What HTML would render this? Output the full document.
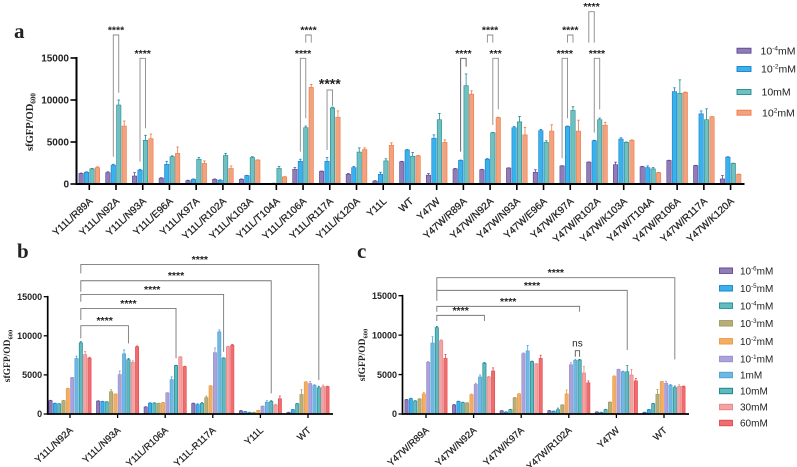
<!DOCTYPE html>
<html lang="en">
<head>
<meta charset="utf-8">
<title>sfGFP/OD600 bar charts</title>
<style>
html,body{margin:0;padding:0;background:#fff;width:797px;height:467px;overflow:hidden}
#stage{display:block;filter:blur(0.35px)}
text{font-family:"Liberation Sans",Arial,sans-serif;fill:#222}
.serif{font-family:"Liberation Serif","Times New Roman",serif}
</style>
</head>
<body>
<svg id="stage" xmlns="http://www.w3.org/2000/svg" width="797" height="467" viewBox="0 0 797 467">
  <text class="serif" x="14" y="38" font-size="21" font-weight="bold">a</text>
  <text class="serif" x="17" y="258" font-size="21" font-weight="bold">b</text>
  <text class="serif" x="357" y="258" font-size="21" font-weight="bold">c</text>
</svg>
<script>
/* ---------- Panel A data ---------- */
const categoriesA = ["Y11L/R89A","Y11L/N92A","Y11L/N93A","Y11L/E96A","Y11L/K97A","Y11L/R102A","Y11L/K103A","Y11L/T104A","Y11L/R106A","Y11L/R117A","Y11L/K120A","Y11L","WT","Y47W","Y47W/R89A","Y47W/N92A","Y47W/N93A","Y47W/E96A","Y47W/K97A","Y47W/R102A","Y47W/K103A","Y47W/T104A","Y47W/R106A","Y47W/R117A","Y47W/K120A"];
const seriesA1 = [1250,1350,950,700,400,550,550,50,1750,1500,1150,350,2650,1050,1800,1700,1900,1400,2150,2600,2300,2050,2800,2200,600];
const seriesA2 = [1400,2250,1650,2350,550,450,1000,80,2700,2700,1950,1150,4050,5450,2800,2950,6700,6350,6850,5150,5350,1950,11000,8350,3200];
const seriesA3 = [1800,9400,5200,3250,2950,3400,3150,1850,6700,9050,3800,2750,3300,7650,11700,6100,7400,4950,8750,7650,4950,1800,10800,7650,2450];
const seriesA4 = [1950,6900,5400,3650,2450,1850,2850,850,11500,7950,4100,4600,3350,4950,10700,7900,5850,6300,6300,7000,5200,1350,10900,8000,1150];
const errorsA1 = [50,100,400,50,50,50,50,20,200,50,100,50,50,200,50,50,30,300,30,30,300,50,30,30,400];
const errorsA2 = [50,100,100,350,50,50,30,20,250,450,150,250,50,400,50,80,150,150,50,60,150,200,450,350,50];
const errorsA3 = [50,600,600,100,200,250,100,250,200,100,500,250,450,750,1400,30,650,200,450,200,50,150,1600,1300,30];
const errorsA4 = [100,600,550,750,300,300,30,30,350,750,200,300,50,300,400,50,900,750,1300,350,50,30,50,30,30];
const legendA = ["10^-4^mM","10^-2^mM","10mM","10^2^mM"];
const yTicks = [0,5000,10000,15000];
/* brackets: category, left series, right series, top value, left end value, right end value, label */
const bracketsA = [
  [1,1,2,17737,3250,10870,"****"],
  [2,1,2,14960,2660,6630,"****"],
  [8,1,2,14960,3850,7820,"****"],
  [8,2,3,17737,16824,16824,"****"],
  [9,1,2,11190,4050,9320,"****"],
  [14,1,2,14960,3850,13970,"****"],
  [15,1,2,17737,16824,16824,"****"],
  [15,2,3,14960,7020,8890,"***"],
  [18,0,1,14960,3060,7820,"****"],
  [18,1,2,17737,16824,16824,"****"],
  [19,0,1,20515,16824,16824,"****"],
  [19,1,2,14960,6110,8890,"****"]
];

/* ---------- Panel B data ---------- */
const categoriesB = ["Y11L/N92A","Y11L/N93A","Y11L/R106A","Y11L-R117A","Y11L","WT"];
const seriesB1 = [1700,1650,900,1350,400,200];
const seriesB2 = [1350,1600,1400,1200,300,550];
const seriesB3 = [1300,1550,1400,1350,200,1300];
const seriesB4 = [1700,2850,1350,2100,200,2500];
const seriesB5 = [3250,2550,1450,3600,450,4100];
const seriesB6 = [4650,5050,2700,7850,1000,3900];
const seriesB7 = [7100,7700,4400,10500,1500,3650];
const seriesB8 = [9100,6950,6200,7150,1600,3350];
const seriesB9 = [7600,6600,7300,8600,1150,3500];
const seriesB10 = [7150,8600,6050,8800,1950,3500];
const errorsB1 = [50,40,30,40,50,30];
const errorsB2 = [40,30,30,100,30,30];
const errorsB3 = [30,30,40,100,30,50];
const errorsB4 = [50,250,30,200,30,600];
const errorsB5 = [50,30,30,30,30,30];
const errorsB6 = [30,450,30,600,30,250];
const errorsB7 = [300,500,350,250,200,100];
const errorsB8 = [150,150,30,40,100,200];
const errorsB9 = [400,200,30,50,100,200];
const errorsB10 = [100,100,50,100,350,50];
/* long brackets: right category, top value, left end value, right end value, label */
const bracketsB = [
  [1,11289,9670,9031,"****"],
  [2,13504,12013,7114,"****"],
  [3,15293,14356,7966,"****"],
  [4,17040,15634,2641,"****"],
  [5,19127,17977,4345,"****"]
];

/* ---------- Panel C data ---------- */
const categoriesC = ["Y47W/R89A","Y47W/N92A","Y47W/K97A","Y47W/R102A","Y47W","WT"];
const seriesC1 = [1800,1150,400,400,250,200];
const seriesC2 = [1950,1600,250,350,200,550];
const seriesC3 = [1650,1450,550,550,550,1300];
const seriesC4 = [1900,1400,2050,1150,1500,2500];
const seriesC5 = [2550,2450,2550,2550,4750,4100];
const seriesC6 = [6550,3750,7650,6250,5650,3900];
const seriesC7 = [9000,4700,8000,6800,5350,3650];
const seriesC8 = [10950,6450,6650,6850,5350,3350];
const seriesC9 = [9300,4700,6350,5200,4950,3500];
const seriesC10 = [7050,5450,7050,3950,4200,3500];
const errorsC1 = [50,50,30,50,30,30];
const errorsC2 = [50,30,30,30,30,30];
const errorsC3 = [50,50,50,200,50,50];
const errorsC4 = [50,30,50,30,30,600];
const errorsC5 = [200,80,30,500,100,30];
const errorsC6 = [100,150,100,250,30,250];
const errorsC7 = [800,250,700,150,80,100];
const errorsC8 = [150,80,50,80,800,200];
const errorsC9 = [100,50,50,800,700,200];
const errorsC10 = [500,400,400,250,300,50];
const bracketsC = [
  [1,12506,11788,11788,"****"],
  [3,13647,12971,12971,"****"],
  [4,15675,14365,8112,"****"],
  [5,17280,15717,6929,"****"]
];
const legendC = ["10^-6^mM","10^-5^mM","10^-4^mM","10^-3^mM","10^-2^mM","10^-1^mM","1mM","10mM","30mM","60mM"];

/* ---------- Rendering ---------- */
const SVGNS = "http://www.w3.org/2000/svg";
const stage = document.getElementById("stage");
function mk(tag, attrs, parent) {
  const n = document.createElementNS(SVGNS, tag);
  for (const k in attrs) n.setAttribute(k, attrs[k]);
  (parent || stage).appendChild(n);
  return n;
}
function addLine(parent, x1, y1, x2, y2, color, w) {
  return mk("line", {x1:x1, y1:y1, x2:x2, y2:y2, stroke:color, "stroke-width":w}, parent);
}
function addRich(parent, label, x, y, size) {
  const t = mk("text", {x:x, y:y, "font-size":size}, parent);
  const parts = label.split("^");
  t.appendChild(document.createTextNode(parts[0]));
  if (parts.length > 1) {
    const sup = mk("tspan", {dy:-size*0.38, "font-size":size*0.62}, t);
    sup.textContent = parts[1];
    const rest = mk("tspan", {dy:size*0.38, "font-size":size}, t);
    rest.textContent = parts[2];
  }
  return t;
}
const colors4 = [["#917db6","#5d4594"],["#37b2ea","#1f7bcf"],["#6fc0bf","#1f8a94"],["#f2a27e","#ee7a44"]];
const colors10 = [["#917db6","#5d4594"],["#37b2ea","#1f7bcf"],["#62bcbd","#1f8a94"],["#b7ae78","#a09660"],["#f2ae66","#ee9a3e"],["#aaa2d8","#9a90cc"],["#6fb8e4","#4fa0d4"],["#5fb9bd","#16808c"],["#f3a3a3","#ec8080"],["#ee6e70","#e04a50"]];

function drawPanel(p) {
  const g = mk("g", {});
  
  
  const yOf = v => p.y0 + (p.y15 - p.y0) * v / 15000;
  const xOf = i => p.xFirst + p.xStep * i;
  const n = p.series.length;
  const barX = (c, s) => xOf(c) + (s - (n - 1) / 2) * p.barStep;

  p.series.forEach((vals, s) => {
    const sg = mk("g", {}, g);
    
    
    vals.forEach((v, c) => {
      const cx = barX(c, s), top = yOf(v), errTop = yOf(v + p.errors[s][c]);
      const [fill, edge] = p.colors[s];
      const stem = addLine(sg, cx, top, cx, errTop, edge, 0.8);
      
      
      const cap = addLine(sg, cx - p.barW * 0.3, errTop, cx + p.barW * 0.3, errTop, edge, 0.8);
      
      
      const bar = mk("rect", {x:cx - p.barW / 2, y:top, width:p.barW, height:Math.max(p.y0 - top, 0), fill:fill, stroke:edge, "stroke-width":0.6}, sg);
      
      
    });
  });

  const yAxis = addLine(g, p.xAxis, yOf(15000) - p.axisW / 2, p.xAxis, p.y0 + p.axisW / 2, "#000", p.axisW);
  
  
  const xAxis = addLine(g, p.xAxis, p.y0, p.xEnd, p.y0, "#000", p.axisW);
  
  

  yTicks.forEach(v => {
    const tick = addLine(g, p.xAxis - p.tickLen, yOf(v), p.xAxis, yOf(v), "#000", p.tickW);
    
    
    const lab = mk("text", {x:p.xAxis - p.tickLen - 1.5, y:yOf(v) + p.yFont * 0.36, "text-anchor":"end", "font-size":p.yFont, "font-weight":"bold"}, g);
    
    
    lab.textContent = v;
  });

  p.categories.forEach((name, i) => {
    const tick = addLine(g, xOf(i), p.y0, xOf(i), p.y0 + p.tickLen, "#000", p.tickW);
    
    
    const tx = xOf(i) + p.labelDx, ty = p.y0 + p.labelDy;
    const lab = mk("text", {x:tx, y:ty, "text-anchor":"end", "font-size":p.xFont, transform:"rotate(-43 " + tx + " " + ty + ")", stroke:"#222", "stroke-width":0.25}, g);
    
    
    lab.textContent = name;
  });

  const title = mk("text", {class:"serif", x:0, y:0, "text-anchor":"middle", "font-size":p.titleFont, "font-weight":"bold", transform:"translate(" + p.titleX + " " + p.titleY + ") rotate(-90)"}, g);
  
  
  title.appendChild(document.createTextNode("sfGFP/OD"));
  const subs = mk("tspan", {dy:p.titleFont * 0.25, "font-size":p.titleFont * 0.68}, title);
  subs.textContent = "600";

  p.legend.forEach((label, i) => {
    const ly = p.legendY[i];
    const sw = mk("rect", {x:p.swatchX, y:ly - p.swatchH / 2, width:p.swatchW, height:p.swatchH, fill:p.colors[i][0], stroke:p.colors[i][1], "stroke-width":0.9}, g);
    
    
    const t = addRich(g, label, p.legendTextX[i], ly + 3.6, p.legendFont);
    
    
  });

  function addBracket(lx, rx, top, lEnd, rEnd, label, size, color) {
    const path = mk("path", {d:"M" + lx + " " + yOf(lEnd) + "V" + yOf(top) + "H" + rx + "V" + yOf(rEnd), fill:"none", stroke:color, "stroke-width":0.9}, g);
    
    
    const isStars = label.indexOf("*") >= 0;
    const t = mk("text", {x:(lx + rx) / 2, y:yOf(top) - (isStars ? 1.5 : 4), "text-anchor":"middle", "font-size":size, "font-weight":isStars ? "bold" : "normal"}, g);
    
    
    t.textContent = label;
  }
  if (p.id === "a") {
    bracketsA.forEach(b => {
      const big = b[0] === 9;
      addBracket(barX(b[0], b[1]), barX(b[0], b[2]), b[3], b[4], b[5], b[6], big ? 14 : 10.5, b[0] === 14 ? "#555" : "#8a8a8a");
    });
  } else {
    p.brackets.forEach(b => {
      addBracket(barX(0, 7), barX(b[0], 7), b[1], b[2], b[3], b[4], 10.5, "#777");
    });
    if (p.id === "c") {
      addBracket(barX(3, 6), barX(3, 7), 8027, 7267, 7267, "ns", 10, "#555");
    }
  }
}

drawPanel({id:"a", categories:categoriesA,
  series:[seriesA1,seriesA2,seriesA3,seriesA4],
  errors:[errorsA1,errorsA2,errorsA3,errorsA4],
  colors:colors4, brackets:bracketsA,
  legend:legendA, legendY:[50.7,69,92,112.7], legendTextX:[760.5,761,761.5,762], swatchX:737, swatchW:14, swatchH:5, legendFont:10.5,
  xAxis:76.5, xEnd:744.5, y0:184, y15:58, xFirst:89.3, xStep:26.72, barStep:5.45, barW:4.4,
  axisW:2, tickLen:6, tickW:1.6, yFont:10, xFont:10, labelDx:4, labelDy:18, titleFont:10.5, titleX:33, titleY:122});

drawPanel({id:"b", categories:categoriesB,
  series:[seriesB1,seriesB2,seriesB3,seriesB4,seriesB5,seriesB6,seriesB7,seriesB8,seriesB9,seriesB10],
  errors:[errorsB1,errorsB2,errorsB3,errorsB4,errorsB5,errorsB6,errorsB7,errorsB8,errorsB9,errorsB10],
  colors:colors10, brackets:bracketsB,
  legend:[], legendY:[], legendTextX:[], swatchX:0, swatchW:0, swatchH:0, legendFont:10,
  xAxis:47.7, xEnd:333, y0:414, y15:296.7, xFirst:70, xStep:47.6, barStep:4.33, barW:3.3,
  axisW:1.7, tickLen:4, tickW:1.3, yFont:9, xFont:9.5, labelDx:3.5, labelDy:17, titleFont:9.5, titleX:10, titleY:356});

drawPanel({id:"c", categories:categoriesC,
  series:[seriesC1,seriesC2,seriesC3,seriesC4,seriesC5,seriesC6,seriesC7,seriesC8,seriesC9,seriesC10],
  errors:[errorsC1,errorsC2,errorsC3,errorsC4,errorsC5,errorsC6,errorsC7,errorsC8,errorsC9,errorsC10],
  colors:colors10, brackets:bracketsC,
  legend:legendC, legendY:[270.7,288.3,305.7,323.3,341.3,359,375,391,407,423], legendTextX:[740,740,740,740,740,740,740,740,740,740], swatchX:719.5, swatchW:13, swatchH:5.5, legendFont:10,
  xAxis:402.5, xEnd:689, y0:414, y15:295.7, xFirst:426, xStep:47.6, barStep:4.33, barW:3.3,
  axisW:1.7, tickLen:4, tickW:1.3, yFont:9, xFont:9.5, labelDx:3.5, labelDy:17, titleFont:9.5, titleX:365, titleY:355});
</script>
</body>
</html>
